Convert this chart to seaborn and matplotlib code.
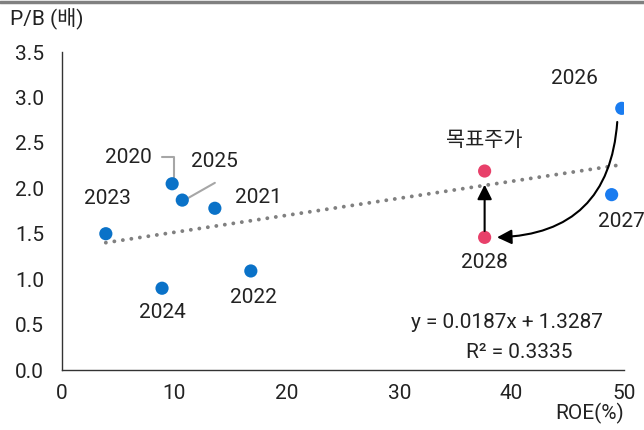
import matplotlib
matplotlib.use("Agg")
import matplotlib.pyplot as plt
import seaborn as sns
import pandas as pd
import numpy as np
from matplotlib.lines import Line2D

# ---- data ----
labels = ['2020', '2021', '2022', '2023', '2024', '2025', '2026', '2027', '2028', '목표주가']
roe = [9.8, 13.6, 16.8, 3.9, 8.9, 10.7, 49.8, 48.9, 37.6, 37.6]
pb = [2.05, 1.78, 1.09, 1.50, 0.90, 1.87, 2.88, 1.93, 1.46, 2.19]
group = ['actual'] * 6 + ['forecast'] * 2 + ['target'] * 2
slope = 0.0187
intercept = 1.3287
r2 = 0.3335
x_ticks = [0, 10, 20, 30, 40, 50]
y_ticks = [0.0, 0.5, 1.0, 1.5, 2.0, 2.5, 3.0, 3.5]

df = pd.DataFrame({'label': labels, 'roe': roe, 'pb': pb, 'group': group})

sns.set_style('white')
plt.rcParams['font.family'] = ['Roboto', 'Noto Sans CJK KR', 'DejaVu Sans']
txt_color = '#222222'
FS = 15

fig = plt.figure(figsize=(6.44, 4.30), dpi=100)
ax = fig.add_axes([62 / 644, 60 / 430, 562 / 644, 318 / 430])

palette = {'actual': '#0A72C8', 'forecast': '#1A7CF0', 'target': '#E8406A'}
sns.scatterplot(data=df, x='roe', y='pb', hue='group', palette=palette,
                s=90, edgecolor='none', legend=False, ax=ax, zorder=3)

# trend line
xs = np.array([min(roe), 50.0])
sns.lineplot(x=xs, y=slope * xs + intercept, ax=ax, color='#808080',
             linestyle=(0, (0.01, 2.2)), linewidth=2.8, dash_capstyle='round', zorder=2)

ax.set_xlim(0, 50)
ax.set_ylim(0, 3.5)
ax.set_xticks(x_ticks)
ax.set_yticks(y_ticks)
ax.set_xticklabels([str(v) for v in x_ticks])
ax.set_yticklabels([f'{v:.1f}' for v in y_ticks])
ax.set_xlabel('')
ax.set_ylabel('')
for s in ['top', 'right']:
    ax.spines[s].set_visible(False)
for s in ['left', 'bottom']:
    ax.spines[s].set_color('#333333')
    ax.spines[s].set_linewidth(1.0)
ax.tick_params(axis='both', direction='out', length=5, width=1, color='#333333',
               labelsize=FS, labelcolor=txt_color)
ax.tick_params(axis='y', pad=8)
ax.tick_params(axis='x', pad=5)

# point labels
lab_pos = {
    '2020': (5.87, 2.34), '2025': (13.6, 2.29), '2023': (4.0, 1.89),
    '2021': (17.5, 1.90), '2024': (8.9, 0.63), '2022': (17.0, 0.80),
    '2026': (45.6, 3.21), '목표주가': (37.6, 2.53), '2027': (49.8, 1.63),
    '2028': (37.6, 1.18),
}
for lab, (tx, ty) in lab_pos.items():
    ax.text(tx, ty, lab, ha='center', va='center', fontsize=FS, color=txt_color,
            clip_on=False)

# leader lines
ax.plot([8.9, 9.96, 9.96], [2.34, 2.34, 2.08], color='#A6A6A6', lw=1.5, zorder=2)
ax.plot([13.6, 10.9], [2.06, 1.87], color='#A6A6A6', lw=1.5, zorder=2)

# arrows
ax.annotate('', xy=(37.6, 2.04), xytext=(37.6, 1.53),
            arrowprops=dict(arrowstyle='-|>', color='black', lw=1.5, mutation_scale=22,
                            shrinkA=0, shrinkB=0), zorder=4)
ax.annotate('', xy=(38.7, 1.46), xytext=(49.4, 2.73),
            arrowprops=dict(arrowstyle='-|>', color='black', lw=1.5, mutation_scale=22,
                            shrinkA=0, shrinkB=0, connectionstyle='arc3,rad=-0.45'),
            zorder=4)

# equation
ax.text(39.6, 0.52, f'y = {slope}x + {intercept}', ha='center', va='center',
        fontsize=FS, color=txt_color)
ax.text(40.7, 0.19, f'R² = {r2}', ha='center', va='center',
        fontsize=FS, color=txt_color)

# axis titles
fig.text(10 / 644, 1 - 18 / 430, 'P/B (배)', ha='left', va='center', fontsize=FS,
         color=txt_color)
fig.text(590 / 644, 1 - 413 / 430, 'ROE(%)', ha='center', va='center', fontsize=FS,
         color=txt_color)

# top rule
fig.add_artist(Line2D([0, 1], [1 - 2 / 430, 1 - 2 / 430], transform=fig.transFigure,
                      color='#808080', lw=2.5))

fig.savefig('out.png', dpi=100)
